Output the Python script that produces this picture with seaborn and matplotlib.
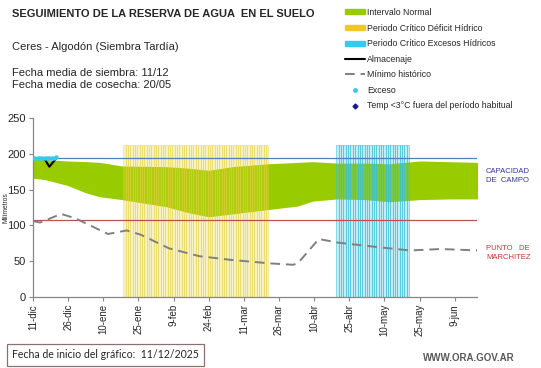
import matplotlib
matplotlib.use("Agg")
import matplotlib.pyplot as plt
import numpy as np
import pandas as pd
import seaborn as sns
from matplotlib.lines import Line2D
from matplotlib.patches import Patch

# days counted from 11-dic-2025
tick_days = [0, 15, 30, 45, 60, 75, 90, 105, 120, 135, 150, 165, 180]
tick_labels = ["11-dic", "26-dic", "10-ene", "25-ene", "9-feb", "24-feb", "11-mar",
               "26-mar", "10-abr", "25-abr", "10-may", "25-may", "9-jun"]

# intervalo normal (banda verde)
band_days = [0, 5, 14.5, 23, 28.6, 38, 57, 66, 75, 85, 100, 113, 119.5, 130, 142, 152, 165, 178, 190]
band_upper = [193, 192, 190, 189, 188, 183, 182, 180, 177, 182, 186, 188, 189, 187, 187, 186, 190, 189, 188]
band_lower = [166, 164, 156, 145, 140, 136, 126, 118, 112, 116, 122, 127, 134, 137, 136, 133, 136, 137, 137]

# minimo historico
min_days = [0, 3, 12, 18, 32, 40, 46, 58, 71, 84, 101, 111, 113, 122, 130, 149, 161, 174, 190]
min_vals = [106, 104, 116, 110, 88, 93, 87, 68, 57, 52, 47, 45, 47, 81, 76, 69, 65, 67, 65]

# almacenaje y excesos
alm_days = [0, 1, 2, 3, 4, 5, 6, 7, 8, 9, 10]
alm_vals = [194, 194, 194, 194, 194, 193, 187, 182, 186, 190, 194]
exc_days = [0, 1, 2, 3, 4, 5, 6, 7, 8, 9, 10]
exc_vals = [194, 194, 194, 194, 194, 194, 194, 194, 194, 194, 195]

# periodos criticos (dias desde el inicio)
deficit_period = (39, 100)
excess_period = (130, 160)
critical_top = 212

capacidad_campo = 194
punto_marchitez = 107.5

sns.set_style("ticks")
plt.rcParams["font.family"] = ["Liberation Sans", "DejaVu Sans"]

fig = plt.figure(figsize=(5.41, 3.68), dpi=100)
ax = fig.add_axes([33 / 541, 1 - 297 / 368, (477 - 33) / 541, (297 - 118) / 368])

green = "#99CC00"
ax.fill_between(band_days, band_lower, band_upper, color=green, lw=0, zorder=1)

yellow = matplotlib.colors.to_rgb("#E6D23C")
cyan = matplotlib.colors.to_rgb("#38C0DA")
d_days = np.arange(deficit_period[0], deficit_period[1] + 1)
e_days = np.arange(excess_period[0], excess_period[1] + 1)
ax.bar(d_days, critical_top, width=1.0, facecolor=(*yellow, 0.3),
       edgecolor=(*yellow, 0.6), linewidth=0.45, zorder=2)
ax.bar(e_days, critical_top, width=1.0, facecolor=(*cyan, 0.3),
       edgecolor=(*cyan, 0.8), linewidth=0.45, zorder=2)

ax.axhline(capacidad_campo, color="#4F81BD", lw=0.9, zorder=3)
ax.axhline(punto_marchitez, color="#C0504D", lw=0.9, zorder=3)

df_min = pd.DataFrame({"dia": min_days, "mm": min_vals})
sns.lineplot(data=df_min, x="dia", y="mm", color="#808080", lw=1.4, ax=ax, zorder=3)
ax.lines[-1].set_dashes((5, 3))

df_alm = pd.DataFrame({"dia": alm_days, "mm": alm_vals})
sns.lineplot(data=df_alm, x="dia", y="mm", color="black", lw=1.5, ax=ax, zorder=4)

df_exc = pd.DataFrame({"dia": exc_days, "mm": exc_vals})
sns.scatterplot(data=df_exc, x="dia", y="mm", color="#33CCEE", s=10, linewidth=0, ax=ax, zorder=5)

ax.set_xlim(0, 189.5)
ax.set_ylim(0, 250)
ax.set_yticks([0, 50, 100, 150, 200, 250])
ax.set_xticks(tick_days)
ax.set_xticklabels(tick_labels, rotation=90)
ax.tick_params(axis="x", labelsize=7, length=3, color="#868686", pad=2)
ax.tick_params(axis="y", labelsize=8, length=3, color="#868686", pad=2)
ax.set_xlabel("")
ax.set_ylabel("Milímetros", fontsize=4.8, labelpad=0)
ax.yaxis.set_label_coords(-0.053, 0.5)
for s in ["top", "right"]:
    ax.spines[s].set_visible(False)
for s in ["left", "bottom"]:
    ax.spines[s].set_color("#868686")
    ax.spines[s].set_linewidth(0.9)

ax.text(1.02, capacidad_campo - 25, "CAPACIDAD\nDE  CAMPO", transform=ax.get_yaxis_transform(),
        fontsize=5.5, color="#3333AA", va="center", ha="left", linespacing=1.3)
ax.text(1.02, punto_marchitez - 46, "PUNTO   DE\nMARCHITEZ", transform=ax.get_yaxis_transform(),
        fontsize=5.5, color="#CC3333", va="center", ha="left", linespacing=1.3)

fig.text(12 / 541, 1 - 14 / 368, "SEGUIMIENTO DE LA RESERVA DE AGUA  EN EL SUELO",
         fontsize=8, fontweight="bold", va="center")
fig.text(12 / 541, 1 - 47 / 368, "Ceres - Algodón (Siembra Tardía)", fontsize=8, va="center")
fig.text(12 / 541, 1 - 73 / 368, "Fecha media de siembra: 11/12", fontsize=8, va="center")
fig.text(12 / 541, 1 - 85 / 368, "Fecha media de cosecha: 20/05", fontsize=8, va="center")

handles = [
    Patch(color=green),
    Patch(color="#F2C824"),
    Patch(color="#33CCEE"),
    Line2D([], [], color="black", lw=1.5),
    Line2D([], [], color="#808080", lw=1.4, dashes=(5, 3)),
    Line2D([], [], color="#33CCEE", marker="o", ls="", markersize=2.5),
    Line2D([], [], color="#1A1A99", marker="D", ls="", markersize=2.5),
]
labels = ["Intervalo Normal", "Periodo Crítico Déficit Hídrico", "Periodo Crítico Excesos Hídricos",
          "Almacenaje", "Mínimo histórico", "Exceso", "Temp <3°C fuera del período habitual"]
fig.legend(handles, labels, loc="upper left", bbox_to_anchor=(345 / 541, 1 - 8 / 368),
           frameon=False, fontsize=6.3, handlelength=2.3, handleheight=0.5,
           handletextpad=0.25, labelspacing=0.75, borderpad=0, borderaxespad=0)

fig.text(12 / 541, 1 - 355 / 368, "Fecha de inicio del gráfico:  11/12/2025", fontsize=7.6,
         family=["Lato", "DejaVu Sans"], va="center",
         bbox=dict(boxstyle="square,pad=0.5", facecolor="white", edgecolor="#8C7070", lw=0.9))
fig.text(515 / 541, 1 - 358 / 368, "WWW.ORA.GOV.AR", fontsize=7, fontweight="bold",
         color="#595959", ha="right", va="center")

fig.savefig("out.png", dpi=100)
